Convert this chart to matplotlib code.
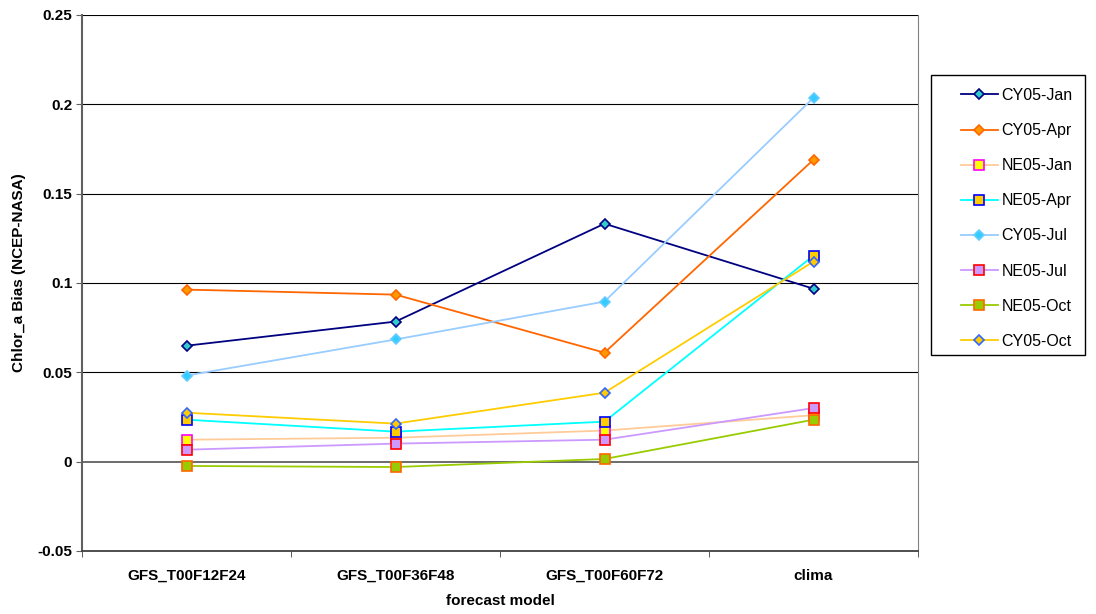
import matplotlib.pyplot as plt
from matplotlib.patches import Rectangle

plt.rcParams['font.family'] = ['Liberation Sans', 'DejaVu Sans']

# forecast models on the x axis
modeli = ['GFS_T00F12F24', 'GFS_T00F36F48', 'GFS_T00F60F72', 'clima']

# bias values for each series
cy05_jan = [0.0649, 0.0784, 0.1332, 0.0968]
cy05_apr = [0.0963, 0.0935, 0.0610, 0.1690]
ne05_jan = [0.0123, 0.0134, 0.0174, 0.0260]
ne05_apr = [0.0235, 0.0168, 0.0224, 0.1153]
cy05_jul = [0.0482, 0.0684, 0.0896, 0.2037]
ne05_jul = [0.0067, 0.0101, 0.0123, 0.0300]
ne05_oct = [-0.0024, -0.0030, 0.0015, 0.0235]
cy05_oct = [0.0274, 0.0213, 0.0386, 0.1120]

serije = [
    ('CY05-Jan', cy05_jan, '#000080', 'D', '#33CCCC', '#000080'),
    ('CY05-Apr', cy05_apr, '#FF6600', 'D', '#FF9900', '#FF6600'),
    ('NE05-Jan', ne05_jan, '#FFCC99', 's', '#FFFF00', '#FF00FF'),
    ('NE05-Apr', ne05_apr, '#00FFFF', 's', '#FFCC00', '#0000FF'),
    ('CY05-Jul', cy05_jul, '#99CCFF', 'D', '#33CCFF', '#66CCFF'),
    ('NE05-Jul', ne05_jul, '#CC99FF', 's', '#CC99FF', '#FF0000'),
    ('NE05-Oct', ne05_oct, '#99CC00', 's', '#99CC00', '#FF6600'),
    ('CY05-Oct', cy05_oct, '#FFCC00', 'D', '#FFCC00', '#3366FF'),
]

W, H = 1096, 614
fig = plt.figure(figsize=(W / 100, H / 100), dpi=100)
ax = fig.add_axes([82 / W, 63 / H, 836 / W, 536 / H])

x = list(range(len(modeli)))
for ime, vrednosti, barva, oznaka, polnilo, rob in serije:
    velikost = 5 if oznaka == 'D' else 6.5
    ax.plot(x, vrednosti, color=barva, lw=1.3, marker=oznaka, ms=velikost,
            markerfacecolor=polnilo, markeredgecolor=rob, markeredgewidth=1.2,
            label=ime, zorder=3)

ax.set_xlim(-0.5, 3.5)
ax.set_ylim(-0.05, 0.25)
ax.set_yticks([-0.05, 0, 0.05, 0.1, 0.15, 0.2, 0.25])
ax.set_yticklabels(['-0.05', '0', '0.05', '0.1', '0.15', '0.2', '0.25'])
ax.set_xticks(x)
ax.set_xticklabels(modeli)
ax.set_xticks([-0.5, 0.5, 1.5, 2.5, 3.5], minor=True)
for t in ax.get_xticklabels() + ax.get_yticklabels():
    t.set_fontweight('bold')
    t.set_fontsize(11)
ax.tick_params(axis='x', which='major', length=0, pad=13)
ax.tick_params(axis='x', which='minor', length=4, color='#404040')
ax.tick_params(axis='y', length=4, direction='out', color='#606060', pad=3)

# horizontal gridlines, the zero line drawn a bit darker
for yv in [0.05, 0.1, 0.15, 0.2, 0.25]:
    ax.axhline(yv, color='black', lw=0.8, zorder=1)
ax.axhline(0, color='#606060', lw=1.3, zorder=1)

for s in ['top', 'right']:
    ax.spines[s].set_visible(False)
ax.plot([3.5, 3.5], [-0.05, 0.25], color='#808080', lw=0.8, clip_on=False, zorder=1)
ax.spines['left'].set_color('#606060')
ax.spines['left'].set_linewidth(1.5)
ax.spines['bottom'].set_color('#404040')
ax.spines['bottom'].set_linewidth(1.3)

ax.set_ylabel('Chlor_a Bias (NCEP-NASA)', fontsize=11, fontweight='bold')
ax.yaxis.set_label_coords(-0.067, 0.52)
ax.set_xlabel('forecast model', fontsize=11, fontweight='bold', labelpad=8)

# legend box
fig.add_artist(Rectangle((931 / W, 1 - 355 / H), 154 / W, 280 / H,
                         transform=fig.transFigure, fill=False,
                         edgecolor='black', lw=1.0))
fig.legend(loc='upper left', bbox_to_anchor=(961 / W, 1 - 88 / H),
           fontsize=11.5, frameon=False, borderpad=0, labelspacing=1.26,
           handlelength=2.3, handletextpad=0.25, borderaxespad=0)

fig.savefig('out.png', dpi=100)
